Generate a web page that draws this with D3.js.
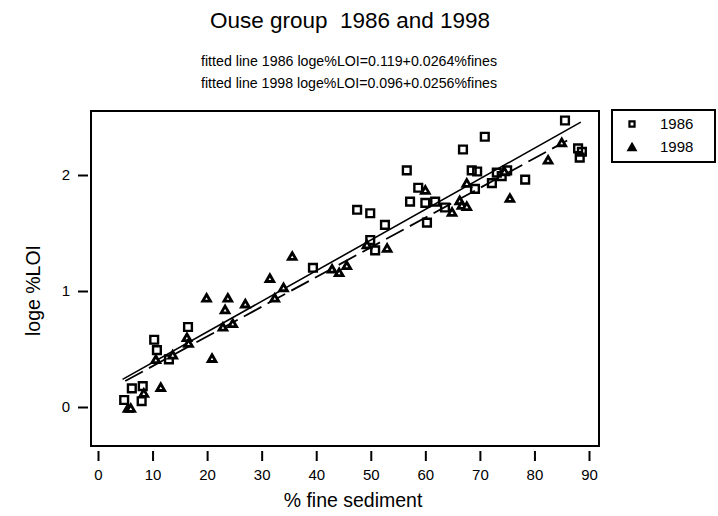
<!DOCTYPE html>
<html>
<head>
<meta charset="utf-8">
<script src="https://cdn.jsdelivr.net/npm/d3@7"></script>
<style>
  body { margin: 0; background: #fff; }
  text { font-family: "Liberation Sans", Arial, sans-serif; fill: #000; }
</style>
</head>
<body>
<svg id="chart" width="718" height="516"></svg>
<script>
// points: [% fine sediment, loge %LOI]
const pts1986 = [
  [4.8, 0.06], [8.0, 0.05], [6.2, 0.16], [8.2, 0.18], [10.3, 0.58], [10.8, 0.49],
  [13.0, 0.41], [16.5, 0.69], [39.4, 1.20], [47.5, 1.70], [49.9, 1.67], [49.9, 1.44],
  [50.8, 1.35], [52.6, 1.57], [56.6, 2.04], [57.2, 1.77], [58.7, 1.89], [60.0, 1.76],
  [61.8, 1.77], [60.3, 1.59], [63.6, 1.72], [66.9, 2.22], [68.5, 2.04], [69.5, 2.03],
  [69.1, 1.88], [70.9, 2.33], [72.2, 1.93], [73.1, 2.02], [74.0, 1.99], [75.0, 2.04],
  [78.3, 1.96], [85.6, 2.47], [88.0, 2.23], [88.7, 2.20], [88.3, 2.15]
];
const pts1998 = [
  [5.5, -0.01], [6.0, -0.01], [8.4, 0.12], [10.6, 0.41], [11.5, 0.17], [13.7, 0.45],
  [16.3, 0.60], [16.6, 0.55], [19.9, 0.94], [20.9, 0.42], [22.9, 0.69], [23.8, 0.94],
  [23.3, 0.84], [24.7, 0.72], [27.0, 0.89], [31.5, 1.11], [32.4, 0.94], [34.0, 1.03],
  [35.6, 1.30], [42.9, 1.19], [44.2, 1.16], [45.6, 1.22], [49.3, 1.40], [53.0, 1.37],
  [60.0, 1.87], [64.9, 1.68], [66.3, 1.78], [66.7, 1.74], [67.6, 1.73], [67.6, 1.93],
  [74.5, 2.03], [75.5, 1.80], [82.5, 2.13], [85.0, 2.28]
];
// fitted lines: intercept, slope, x range
const fit1986 = { a: 0.119, b: 0.0264, from: 4.5, to: 88.5 };
const fit1998 = { a: 0.096, b: 0.0256, from: 5.0, to: 86.0 };
const xTicks = [0, 10, 20, 30, 40, 50, 60, 70, 80, 90];
const yTicks = [0, 1, 2];
const legendLabels = ["1986", "1998"];

const svg = d3.select("#chart");

const x = d3.scaleLinear().domain([0, 90]).range([98, 589]);
const y = d3.scaleLinear().domain([0, 2]).range([407, 175]);

const frame = { left: 91, right: 599, top: 111, bottom: 446 };

// titles
svg.append("text")
    .attr("x", 350).attr("y", 28)
    .attr("text-anchor", "middle")
    .style("font-size", "22.5px")
    .style("white-space", "pre")
    .text("Ouse group  1986 and 1998");

[
  `fitted line 1986 loge%LOI=${fit1986.a}+${fit1986.b}%fines`,
  `fitted line 1998 loge%LOI=${fit1998.a}+${fit1998.b}%fines`
].forEach((t, i) => {
  svg.append("text")
      .attr("x", 349).attr("y", 66 + i * 22)
      .attr("text-anchor", "middle")
      .attr("textLength", 296)
      .attr("lengthAdjust", "spacingAndGlyphs")
      .style("font-size", "15px")
      .text(t);
});

// frame
svg.append("rect")
    .attr("x", frame.left).attr("y", frame.top)
    .attr("width", frame.right - frame.left)
    .attr("height", frame.bottom - frame.top)
    .attr("fill", "none")
    .attr("stroke", "#000")
    .attr("stroke-width", 2);

// x axis, detached below the frame
const xAxis = svg.append("g")
    .attr("transform", `translate(0,${frame.bottom + 5})`)
    .call(d3.axisBottom(x).tickValues(xTicks).tickSize(10).tickPadding(8));
xAxis.select(".domain").remove();
xAxis.selectAll("line").attr("stroke-width", 2);
xAxis.selectAll("text").style("font-size", "15px").style("font-family", "Liberation Sans, Arial, sans-serif");

// y axis, detached left of the frame
const yAxis = svg.append("g")
    .attr("transform", `translate(${frame.left - 3},0)`)
    .call(d3.axisLeft(y).tickValues(yTicks).tickFormat(d3.format("d")).tickSize(10).tickPadding(8));
yAxis.select(".domain").remove();
yAxis.selectAll("line").attr("stroke-width", 2);
yAxis.selectAll("text").style("font-size", "15px").style("font-family", "Liberation Sans, Arial, sans-serif");

svg.append("text")
    .attr("x", (frame.left + frame.right) / 2 + 8).attr("y", 507)
    .attr("text-anchor", "middle")
    .style("font-size", "19.5px")
    .text("% fine sediment");

svg.append("text")
    .attr("transform", `translate(40,${(frame.top + frame.bottom) / 2 + 12}) rotate(-90)`)
    .attr("text-anchor", "middle")
    .style("font-size", "19.5px")
    .text("loge %LOI");

// fitted lines
const line = d3.line().x(d => x(d[0])).y(d => y(d[1]));
const fitPts = f => [[f.from, f.a + f.b * f.from], [f.to, f.a + f.b * f.to]];

svg.append("path")
    .attr("d", line(fitPts(fit1986)))
    .attr("stroke", "#000").attr("stroke-width", 1.6).attr("fill", "none");

svg.append("path")
    .attr("d", line(fitPts(fit1998)))
    .attr("stroke", "#000").attr("stroke-width", 1.8).attr("fill", "none")
    .attr("stroke-dasharray", "20,7");

// symbols
const sq = d3.symbol().type(d3.symbolSquare).size(60);
const tri = d3.symbol().type(d3.symbolTriangle).size(26);

svg.append("g").selectAll("path")
  .data(pts1986)
  .join("path")
    .attr("transform", d => `translate(${x(d[0])},${y(d[1])})`)
    .attr("d", sq)
    .attr("fill", "none")
    .attr("stroke", "#000")
    .attr("stroke-width", 2.4);

svg.append("g").selectAll("path")
  .data(pts1998)
  .join("path")
    .attr("transform", d => `translate(${x(d[0])},${y(d[1]) + 1})`)
    .attr("d", tri)
    .attr("fill", "#fff")
    .attr("stroke", "#000")
    .attr("stroke-width", 2.8)
    .attr("stroke-linejoin", "miter");

// legend
const lg = svg.append("g");
lg.append("rect")
    .attr("x", 612).attr("y", 110)
    .attr("width", 103).attr("height", 52)
    .attr("fill", "none").attr("stroke", "#000").attr("stroke-width", 2);

legendLabels.forEach((lab, i) => {
  const cy = 124 + i * 23;
  lg.append("path")
      .attr("transform", `translate(632,${cy + (i ? 1 : 0)})`)
      .attr("d", i ? d3.symbol().type(d3.symbolTriangle).size(22)() : d3.symbol().type(d3.symbolSquare).size(26)())
      .attr("fill", i ? "#000" : "none")
      .attr("stroke", "#000")
      .attr("stroke-width", 2.2);
  lg.append("text")
      .attr("x", 660).attr("y", cy + 5)
      .style("font-size", "15px")
      .text(lab);
});
</script>
</body>
</html>
